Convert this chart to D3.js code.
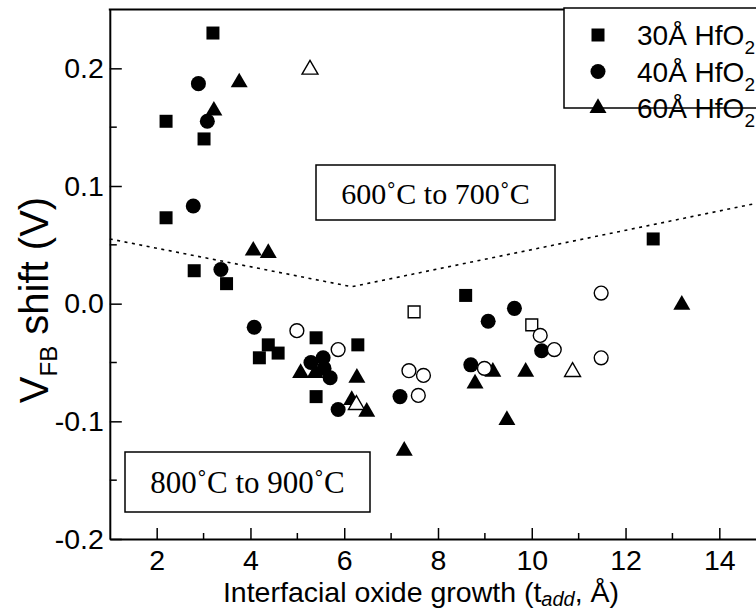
<!DOCTYPE html>
<html>
<head>
<meta charset="utf-8">
<script src="https://cdn.jsdelivr.net/npm/d3@7"></script>
<style>
  html, body { margin: 0; padding: 0; background: #fff; }
  svg { display: block; }
</style>
</head>
<body>
<svg id="chart" width="756" height="611"></svg>
<script>
// Flat-band voltage shift vs. interfacial oxide growth, per HfO2 thickness.
// Filled symbols and open symbols are two anneal groups of the same stacks.
const sq30   = [[3.2,0.23],[2.2,0.155],[3.01,0.14],[2.2,0.073],[2.8,0.028],[3.49,0.017],
                [4.38,-0.035],[4.19,-0.046],[4.59,-0.042],[5.4,-0.029],[6.29,-0.035],
                [5.4,-0.079],[8.59,0.007],[12.59,0.055]];
const open30 = [[7.49,-0.007],[10.0,-0.018]];
const circ40 = [[2.89,0.187],[3.08,0.155],[2.78,0.083],[3.37,0.029],[4.08,-0.020],
                [5.29,-0.050],[5.55,-0.046],[5.57,-0.055],[5.70,-0.063],[5.87,-0.090],
                [7.19,-0.079],[9.07,-0.015],[9.63,-0.004],[10.21,-0.040],[8.70,-0.052]];
const open40 = [[4.99,-0.023],[5.87,-0.039],[7.38,-0.057],[7.69,-0.061],[7.58,-0.078],
                [8.99,-0.055],[10.18,-0.027],[10.48,-0.039],[11.48,0.009],[11.48,-0.046]];
const tri60  = [[3.76,0.188],[3.22,0.164],[4.06,0.045],[4.38,0.043],[5.07,-0.059],
                [5.38,-0.059],[6.27,-0.063],[6.16,-0.082],[6.48,-0.092],[8.79,-0.068],
                [9.17,-0.058],[9.87,-0.058],[9.47,-0.099],[7.28,-0.125],[13.2,-0.001]];
const open60 = [[5.27,0.199],[6.26,-0.086],[10.87,-0.058]];

// Boundary separating the two anneal regimes
const boundary = [[1,0.055],[6.16,0.0144],[15,0.087]];

const xMajor = [2,4,6,8,10,12,14];
const xMinor = [3,5,7,9,11,13];
const yMajor = [-0.2,-0.1,0.0,0.1,0.2];
const yMinor = [-0.15,-0.05,0.05,0.15];

const legendLabels = ["30Å HfO", "40Å HfO", "60Å HfO"];
const regionLabels = ["600˚C to 700˚C", "800˚C to 900˚C"];

const svg = d3.select("#chart");
const plotL = 109.8, plotR = 766.2, plotT = 9.5, plotB = 539;
const x = d3.scaleLinear().domain([1, 15]).range([plotL, plotR]);
const y = d3.scaleLinear().domain([-0.2, 0.25]).range([plotB, plotT]);

const SANS = "'Liberation Sans', Arial, sans-serif";
const SERIF = "'Liberation Serif', 'Times New Roman', serif";

// Axes with inward ticks
const gx = svg.append("g").attr("transform", `translate(0,${plotB})`);
gx.call(d3.axisBottom(x).tickValues(xMajor).tickSizeInner(-11).tickSizeOuter(0).tickPadding(11)
    .tickFormat(d3.format("d")));
gx.append("g").selectAll("line").data(xMinor).join("line")
  .attr("x1", d => x(d)).attr("x2", d => x(d)).attr("y1", 0).attr("y2", -6)
  .attr("stroke", "#000").attr("stroke-width", 1.5);

const gy = svg.append("g").attr("transform", `translate(${plotL},0)`);
gy.call(d3.axisLeft(y).tickValues(yMajor).tickSizeInner(-12).tickSizeOuter(0).tickPadding(6)
    .tickFormat(d3.format(".1f")));
gy.append("g").selectAll("line").data(yMinor).join("line")
  .attr("y1", d => y(d)).attr("y2", d => y(d)).attr("x1", 0).attr("x2", 7)
  .attr("stroke", "#000").attr("stroke-width", 1.5);

[gx, gy].forEach(g => {
  g.select(".domain").attr("stroke", "#000").attr("stroke-width", 2);
  g.selectAll(".tick line").attr("stroke", "#000").attr("stroke-width", 1.5);
  g.selectAll(".tick text").attr("font-family", SANS).attr("font-size", 28.5).attr("fill", "#000");
});
gy.selectAll(".tick text").text(d => d3.format(".1f")(d).replace("−", "-"));

// Top frame
svg.append("line").attr("x1", plotL - 1).attr("x2", 756).attr("y1", plotT).attr("y2", plotT)
  .attr("stroke", "#000").attr("stroke-width", 2);

// Dotted regime boundary
svg.append("path").datum(boundary)
  .attr("d", d3.line().x(d => x(d[0])).y(d => y(d[1])))
  .attr("fill", "none").attr("stroke", "#000").attr("stroke-width", 1.6)
  .attr("stroke-dasharray", "3,4.5");

// Region label boxes
const boxes = [
  {label: regionLabels[0], x0: 316, y0: 165, w: 239, h: 55, fs: 30},
  {label: regionLabels[1], x0: 125, y0: 452, w: 245, h: 60, fs: 31}
];
boxes.forEach(b => {
  svg.append("rect").attr("x", b.x0).attr("y", b.y0).attr("width", b.w).attr("height", b.h)
    .attr("fill", "#fff").attr("stroke", "#000").attr("stroke-width", 1.5);
  svg.append("text").attr("x", b.x0 + b.w / 2).attr("y", b.y0 + b.h / 2 + 11)
    .attr("text-anchor", "middle").attr("font-family", SERIF).attr("font-size", b.fs)
    .text(b.label);
});

// Markers
const sym = (type, size) => d3.symbol().type(type).size(size)();
function drawSeries(data, type, size, filled) {
  svg.append("g").selectAll("path").data(data).join("path")
    .attr("transform", d => `translate(${x(d[0])},${y(d[1])})`)
    .attr("d", sym(type, size))
    .attr("fill", filled ? "#000" : "#fff")
    .attr("stroke", "#000").attr("stroke-width", filled ? 0 : 1.4);
}
drawSeries(sq30, d3.symbolSquare, 169, true);
drawSeries(circ40, d3.symbolCircle, 177, true);
drawSeries(tri60, d3.symbolTriangle, 125, true);
drawSeries(open30, d3.symbolSquare, 140, false);
drawSeries(open40, d3.symbolCircle, 150, false);
drawSeries(open60, d3.symbolTriangle, 110, false);

// Legend
const lg = svg.append("g");
lg.append("rect").attr("x", 564).attr("y", 8).attr("width", 200).attr("height", 100)
  .attr("fill", "#fff").attr("stroke", "#000").attr("stroke-width", 1.5);
const legendSyms = [[d3.symbolSquare, 169], [d3.symbolCircle, 177], [d3.symbolTriangle, 125]];
legendLabels.forEach((lab, i) => {
  const cy = 35 + i * 36.5;
  lg.append("path").attr("transform", `translate(598,${cy})`)
    .attr("d", sym(legendSyms[i][0], legendSyms[i][1])).attr("fill", "#000");
  const t = lg.append("text").attr("x", 637).attr("y", cy + 10)
    .attr("font-family", SANS).attr("font-size", 28);
  t.append("tspan").text(lab);
  t.append("tspan").attr("dy", 9).attr("font-size", 19).text("2");
});

// Axis titles
const xt = svg.append("text").attr("x", 421).attr("y", 602).attr("text-anchor", "middle")
  .attr("font-family", SANS).attr("font-size", 28.5);
xt.append("tspan").text("Interfacial oxide growth (t");
xt.append("tspan").attr("dy", 4).attr("font-size", 20).attr("font-style", "italic").text("add");
xt.append("tspan").attr("dy", -4).text(", Å)");

const yt = svg.append("text").attr("transform", "translate(48,300) rotate(-90)")
  .attr("text-anchor", "middle").attr("font-family", SANS).attr("font-size", 40);
yt.append("tspan").text("V");
yt.append("tspan").attr("dy", 9).attr("font-size", 24).text("FB");
yt.append("tspan").attr("dy", -9).text(" shift (V)");
</script>
</body>
</html>
